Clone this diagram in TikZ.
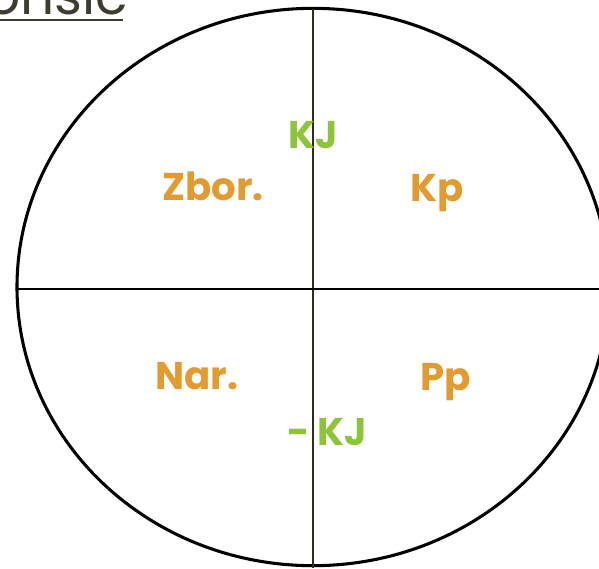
\documentclass[tikz,border=0pt]{standalone}
\usepackage{fontspec}
\setmainfont{Poppins}
\usetikzlibrary{positioning}
\definecolor{partorange}{HTML}{E39A2E}
\definecolor{kjgreen}{HTML}{8CC43A}
\definecolor{headgray}{HTML}{3E3C2F}
\definecolor{axisolive}{HTML}{2E2E1E}

\begin{document}
\begin{tikzpicture}[x=0.75pt, y=-0.75pt,
  lbl/.style={font=\fontsize{29}{29}\selectfont\bfseries, inner sep=0pt, anchor=base},
  part/.style={lbl, text=partorange},
  kj/.style={lbl, text=kjgreen},
  rim/.style={line width=2.3pt},
  axis/.style={line width=1.5pt}
]
\useasboundingbox (0,0) rectangle (599,568);
\clip (0,0) rectangle (599,568);

% heading, cut off by the top edge
\node[font=\fontsize{40}{40}\selectfont, text=headgray, anchor=base west, inner sep=0pt] (head) at (-14,14) {onsic};
\draw[headgray, line width=2.2pt] (0,20) -- (123,20);

% circle and axes
\coordinate (c) at (313,287);
\coordinate (top) at (313,9);
\coordinate (bot) at (313,568);
\coordinate (west) at (17,289);
\coordinate (east) at (599,289);
\draw[rim] (c) ellipse [x radius=222pt, y radius=209pt];
\draw[axis, axisolive] (top) -- (bot);
\draw[axis] (west) -- (east);

% quadrants
\node[kj] (kjtop) at (313,148) {KJ};
\node[part] (zbor) at (213,200) {Zbor.};
\node[part] (kp) at (437,201) {Kp};
\node[part] (nar) at (197,389) {Nar.};
\node[part] (pp) at (446,390) {Pp};
\node[kj] (kjbot) at (327,445) {- KJ};
\end{tikzpicture}
\end{document}
